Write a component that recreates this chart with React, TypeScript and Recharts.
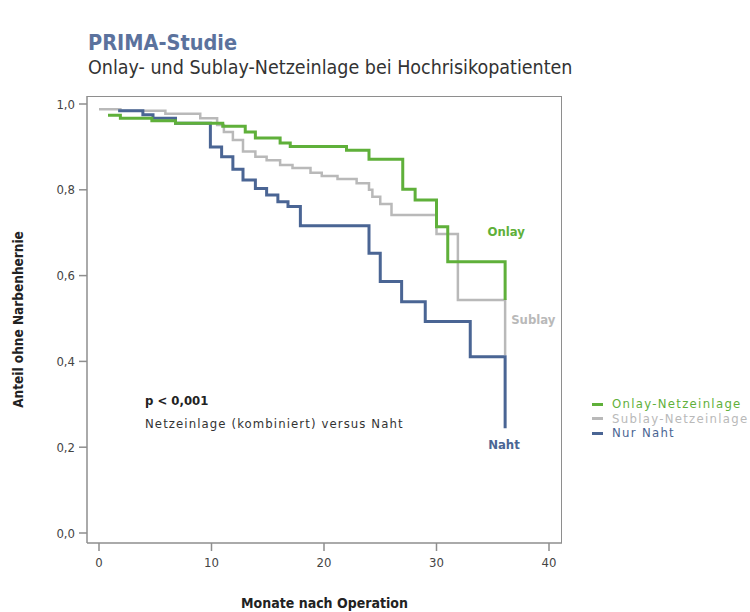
import React from 'react';
import { LineChart, Line, XAxis, YAxis, ReferenceDot, Label } from 'recharts';

// Kaplan-Meier step data (months after operation, proportion without incisional hernia)
const onlayMonths = [0.8, 1.9, 4.7, 6.8, 11.0, 13.0, 13.9, 16.1, 17.0, 22.0, 24.0, 27.0, 28.1, 30.0, 31.0, 36.1];
const onlaySurvival = [0.974, 0.967, 0.961, 0.955, 0.948, 0.935, 0.921, 0.909, 0.901, 0.892, 0.871, 0.801, 0.776, 0.714, 0.632, 0.543];

const sublayMonths = [0, 1.9, 5.9, 9.0, 10.5, 11.1, 11.9, 12.8, 13.9, 14.9, 16.1, 17.2, 18.8, 19.8, 21.2, 22.9, 24.0, 24.3, 25.0, 26.0, 30.0, 31.9, 36.1];
const sublaySurvival = [0.988, 0.984, 0.977, 0.967, 0.951, 0.935, 0.916, 0.889, 0.877, 0.869, 0.858, 0.851, 0.84, 0.832, 0.825, 0.815, 0.8, 0.784, 0.767, 0.741, 0.697, 0.543, 0.415];

const nahtMonths = [1.7, 3.9, 4.8, 6.8, 9.9, 10.9, 11.9, 12.8, 13.9, 14.9, 15.9, 16.8, 17.9, 24.0, 25.0, 26.9, 29.0, 33.0, 36.1];
const nahtSurvival = [0.984, 0.975, 0.967, 0.955, 0.9, 0.877, 0.848, 0.823, 0.803, 0.788, 0.772, 0.761, 0.716, 0.652, 0.586, 0.539, 0.493, 0.411, 0.244];

const xTicks = [0, 10, 20, 30, 40];
const yTicks = [0, 0.2, 0.4, 0.6, 0.8, 1.0];

const seriesNames = ['Onlay-Netzeinlage', 'Sublay-Netzeinlage', 'Nur Naht'];
const seriesShort = ['Onlay', 'Sublay', 'Naht'];
const colors = ['#5fb03a', '#b9b9b9', '#4a6594'];

const toSeries = (m: number[], s: number[]) => m.map((t, i) => ({ t, s: s[i] }));
const onlayData = toSeries(onlayMonths, onlaySurvival);
const sublayData = toSeries(sublayMonths, sublaySurvival);
const nahtData = toSeries(nahtMonths, nahtSurvival);

const FONT = "'Liberation Sans Narrow','DejaVu Sans Condensed','Roboto Condensed',Roboto,Arial,sans-serif";
const AXIS = '#8e8e8e';

const fmtY = (v: number) => v.toFixed(1).replace('.', ',');

export default function App() {
  return (
    <div style={{ position: 'absolute', left: 0, top: 0, width: 750, height: 612, background: '#fff', fontFamily: FONT, fontStretch: 'condensed', overflow: 'hidden' }}>
      <div style={{ position: 'absolute', left: 88, top: 30, fontSize: 21.5, fontWeight: 'bold', color: '#5b729d' }}>PRIMA-Studie</div>
      <div style={{ position: 'absolute', left: 88, top: 56, fontSize: 19.5, color: '#333', whiteSpace: 'nowrap' }}>Onlay- und Sublay-Netzeinlage bei Hochrisikopatienten</div>
      <div style={{ position: 'absolute', left: 145, top: 393, fontSize: 13, fontWeight: 'bold', color: '#222' }}>p &lt; 0,001</div>
      <div style={{ position: 'absolute', left: 145, top: 416, fontSize: 13, letterSpacing: '1.1px', color: '#333', whiteSpace: 'nowrap' }}>Netzeinlage (kombiniert) versus Naht</div>
      <LineChart width={750} height={612} margin={{ top: 96, right: 188, bottom: 39, left: 47 }}>
        <XAxis
          dataKey="t"
          type="number"
          domain={[0, 40]}
          ticks={xTicks}
          padding={{ left: 12, right: 13 }}
          height={30}
          stroke={AXIS}
          strokeWidth={1.5}
          tickSize={8}
          tickMargin={7}
          tick={{ fill: '#444', fontSize: 13, fontFamily: FONT }}
          allowDataOverflow
        >
          <Label value="Monate nach Operation" position="bottom" offset={25} style={{ fontWeight: 'bold', fontSize: 14, fill: '#222', fontFamily: FONT }} />
        </XAxis>
        <YAxis
          type="number"
          domain={[0, 1]}
          ticks={yTicks}
          padding={{ top: 8, bottom: 10 }}
          width={40}
          stroke={AXIS}
          strokeWidth={1.5}
          tickSize={8}
          tickMargin={4}
          tickFormatter={fmtY}
          tick={{ fill: '#444', fontSize: 13, fontFamily: FONT }}
        >
          <Label value="Anteil ohne Narbenhernie" angle={-90} position="insideLeft" offset={-29} style={{ fontWeight: 'bold', fontSize: 13.5, fill: '#222', fontFamily: FONT, textAnchor: 'middle' }} />
        </YAxis>
        <Line data={sublayData} dataKey="s" type="stepAfter" stroke={colors[1]} strokeWidth={2.5} dot={false} isAnimationActive={false} name={seriesNames[1]} />
        <Line data={nahtData} dataKey="s" type="stepAfter" stroke={colors[2]} strokeWidth={3} dot={false} isAnimationActive={false} name={seriesNames[2]} />
        <Line data={onlayData} dataKey="s" type="stepAfter" stroke={colors[0]} strokeWidth={3} dot={false} isAnimationActive={false} name={seriesNames[0]} />
        <ReferenceDot x={36.2} y={0.703} r={0} stroke="none" fill="none" label={<Label value={seriesShort[0]} position="center" style={{ fill: colors[0], fontWeight: 'bold', fontSize: 13, fontFamily: FONT }} />} />
        <ReferenceDot x={38.6} y={0.497} r={0} stroke="none" fill="none" label={<Label value={seriesShort[1]} position="center" style={{ fill: colors[1], fontWeight: 'bold', fontSize: 13, fontFamily: FONT }} />} />
        <ReferenceDot x={36.0} y={0.206} r={0} stroke="none" fill="none" label={<Label value={seriesShort[2]} position="center" style={{ fill: colors[2], fontWeight: 'bold', fontSize: 13, fontFamily: FONT }} />} />
      </LineChart>
      <div style={{ position: 'absolute', left: 87, top: 95.5, width: 474.5, height: 447, borderTop: `1.5px solid ${AXIS}`, borderRight: `1.5px solid ${AXIS}`, boxSizing: 'border-box', pointerEvents: 'none' }} />
      <div style={{ position: 'absolute', left: 592, top: 397, fontSize: 13, letterSpacing: '1.3px', lineHeight: '14.5px', whiteSpace: 'nowrap' }}>
        {seriesNames.map((n, i) => (
          <div key={n} style={{ display: 'flex', alignItems: 'center', color: colors[i] }}>
            <span style={{ display: 'inline-block', width: 11, height: 3, background: colors[i], marginRight: 9 }} />
            {n}
          </div>
        ))}
      </div>
    </div>
  );
}
